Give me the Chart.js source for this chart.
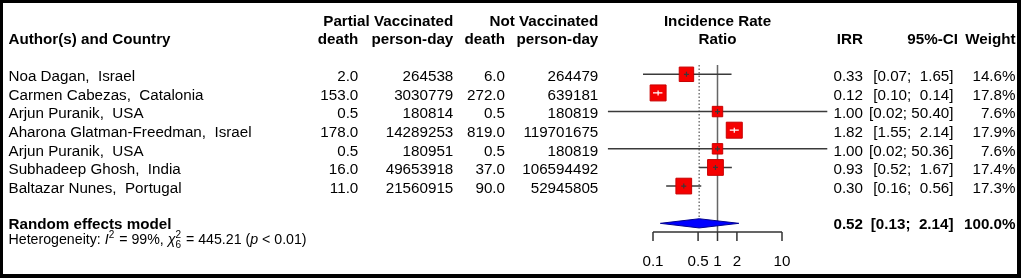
<!DOCTYPE html>
<html><head><meta charset="utf-8">
<script src="https://cdn.jsdelivr.net/npm/chart.js@4.4.0/dist/chart.umd.min.js"></script>
<style>html,body{margin:0;padding:0;background:#fff;overflow:hidden}#wrap{width:1021px;height:278px;position:relative}canvas{display:block}</style>
</head><body><div id="wrap"><canvas id="c" width="1021" height="278"></canvas></div>
<script>
// ---------------- data ----------------
const studies = ['Noa Dagan,  Israel','Carmen Cabezas,  Catalonia','Arjun Puranik,  USA','Aharona Glatman-Freedman,  Israel','Arjun Puranik,  USA','Subhadeep Ghosh,  India','Baltazar Nunes,  Portugal'];
const partialDeath = [2.0,153.0,0.5,178.0,0.5,16.0,11.0];
const partialPersonDay = [264538,3030779,180814,14289253,180951,49653918,21560915];
const notDeath = [6.0,272.0,0.5,819.0,0.5,37.0,90.0];
const notPersonDay = [264479,639181,180819,119701675,180819,106594492,52945805];
const irr = [0.33,0.12,1.00,1.82,1.00,0.93,0.30];
const ciLow = [0.07,0.10,0.02,1.55,0.02,0.52,0.16];
const ciHigh = [1.65,0.14,50.40,2.14,50.36,1.67,0.56];
const weights = [14.6,17.8,7.6,17.9,7.6,17.4,17.3];
const pooledLabel = 'Random effects model';
const pooledEst = 0.52, pooledLow = 0.13, pooledHigh = 2.14, pooledWeight = 100.0;
const axisTicks = [0.1,0.5,1,2,10];
const axisTickLabels = ['0.1','0.5','1','2','10'];
const hetI2 = '99%', hetQ = '445.21', hetDf = '6', hetP = '< 0.01';

// ---------------- geometry ----------------
const W = 1021, H = 278;
const PX_ONE = 717.5, PX_DECADE = 64.5, ROW0 = 74.3, ROWH = 18.63;
const xMin = Math.pow(10, -PX_ONE / PX_DECADE), xMax = Math.pow(10, (W - PX_ONE) / PX_DECADE);
const yMin = -ROW0 / ROWH, yMax = (H - ROW0) / ROWH;
const POOL_ROW = studies.length + 1;
const AXIS_ROW = 8.465;
const FONT = '"Liberation Sans", Arial, Helvetica, sans-serif';
const FS = 15.2, FS_HET = 14.2;
const maxW = Math.max(...weights);
const sideOf = w => 16 * Math.sqrt(w / maxW);

const ciDatasets = studies.map((s, i) => ({
  type: 'scatter', showLine: true, data: [{x: ciLow[i], y: i}, {x: ciHigh[i], y: i}],
  borderColor: '#3a3a3a', borderWidth: 1.5, pointRadius: 0, order: 2
}));

const diamondH = 4.6 / ROWH;
const datasets = [
  { type: 'scatter', data: studies.map((s, i) => ({x: irr[i], y: i})),
    pointStyle: 'rect', pointRadius: weights.map(w => sideOf(w) / Math.SQRT2),
    pointHoverRadius: weights.map(w => sideOf(w) / Math.SQRT2),
    backgroundColor: '#f50000', borderColor: '#c80000', borderWidth: 1, order: 0 },
  { type: 'scatter', showLine: true, fill: 'shape',
    data: [{x: pooledLow, y: POOL_ROW}, {x: pooledEst, y: POOL_ROW - diamondH}, {x: pooledHigh, y: POOL_ROW}, {x: pooledEst, y: POOL_ROW + diamondH}, {x: pooledLow, y: POOL_ROW}],
    backgroundColor: '#0000ff', borderColor: '#000090', borderWidth: 1, pointRadius: 0, tension: 0, order: 1 },
  ...ciDatasets,
  { type: 'scatter', showLine: true, data: [{x: 1, y: -0.5}, {x: 1, y: AXIS_ROW}],
    borderColor: '#666', borderWidth: 1.5, pointRadius: 0, order: 3 },
  { type: 'scatter', showLine: true, data: [{x: pooledEst, y: -0.5}, {x: pooledEst, y: POOL_ROW}],
    borderColor: '#777', borderWidth: 1.5, borderDash: [1.5, 2], pointRadius: 0, order: 3 }
];

function fmtInt(v) { return String(Math.round(v)); }
function pad(s, n) { while (s.length < n) s = ' ' + s; return s; }
function fmtCI(lo, hi) { return '[' + lo.toFixed(2) + '; ' + pad(hi.toFixed(2), 5) + ']'; }

const forestPlugin = {
  id: 'forest',
  afterDatasetsDraw(chart) {
    const ctx = chart.ctx, xs = chart.scales.x, ys = chart.scales.y;
    const px = v => xs.getPixelForValue(v), py = r => ys.getPixelForValue(r);
    ctx.save();
    // crosses on squares
    studies.forEach((s, i) => {
      const cx = px(irr[i]), cy = py(i), half = sideOf(weights[i]) / 2;
      const lo = px(ciLow[i]), hi = px(ciHigh[i]);
      const inside = lo >= cx - half && hi <= cx + half;
      ctx.strokeStyle = inside ? '#ffffff' : '#3a3a3a';
      ctx.lineWidth = 1.2;
      ctx.beginPath();
      if (inside) { ctx.moveTo(lo, cy); ctx.lineTo(hi, cy); }
      else { ctx.moveTo(cx - 2.5, cy); ctx.lineTo(cx + 2.5, cy); }
      ctx.moveTo(cx, cy - 2.5); ctx.lineTo(cx, cy + 2.5);
      ctx.stroke();
    });
    // axis
    const ay = py(AXIS_ROW);
    ctx.strokeStyle = '#333'; ctx.lineWidth = 1.5;
    ctx.beginPath();
    ctx.moveTo(px(axisTicks[0]), ay); ctx.lineTo(px(axisTicks[axisTicks.length - 1]), ay);
    axisTicks.forEach(t => { ctx.moveTo(px(t), ay); ctx.lineTo(px(t), ay + 9); });
    ctx.stroke();
    ctx.fillStyle = '#000';
    ctx.font = FS + 'px ' + FONT; ctx.textAlign = 'center'; ctx.textBaseline = 'alphabetic';
    axisTicks.forEach((t, k) => ctx.fillText(axisTickLabels[k], px(t), ay + 34));

    // text helpers
    const T = (str, x, y, align, bold) => {
      ctx.font = (bold ? 'bold ' : '') + FS + 'px ' + FONT;
      ctx.textAlign = align; ctx.fillText(str, x, y);
    };
    const base = r => py(r) + 6.8;
    const h1 = 25.5, h2 = 43.8;
    // headers
    T('Author(s) and Country', 8.5, h2, 'left', true);
    T('Partial Vaccinated', 453.3, h1, 'right', true);
    T('death', 358.3, h2, 'right', true);
    T('person-day', 453.3, h2, 'right', true);
    T('Not Vaccinated', 598.3, h1, 'right', true);
    T('death', 505, h2, 'right', true);
    T('person-day', 598.3, h2, 'right', true);
    T('Incidence Rate', px(1), h1, 'center', true);
    T('Ratio', px(1), h2, 'center', true);
    T('IRR', 863, h2, 'right', true);
    T('95%-CI', 958, h2, 'right', true);
    T('Weight', 1015.5, h2, 'right', true);
    // rows
    studies.forEach((s, i) => {
      const y = base(i);
      T(s, 8.5, y, 'left');
      T(partialDeath[i].toFixed(1), 358.3, y, 'right');
      T(fmtInt(partialPersonDay[i]), 453.3, y, 'right');
      T(notDeath[i].toFixed(1), 505, y, 'right');
      T(fmtInt(notPersonDay[i]), 598.3, y, 'right');
      T(irr[i].toFixed(2), 863, y, 'right');
      T(fmtCI(ciLow[i], ciHigh[i]), 953.5, y, 'right');
      T(weights[i].toFixed(1) + '%', 1015.5, y, 'right');
    });
    const yp = base(POOL_ROW) - 1.2;
    T(pooledLabel, 8.5, yp, 'left', true);
    T(pooledEst.toFixed(2), 863, yp, 'right', true);
    T(fmtCI(pooledLow, pooledHigh), 953.5, yp, 'right', true);
    T(pooledWeight.toFixed(1) + '%', 1015.5, yp, 'right', true);
    // heterogeneity
    let hx = 8.5; const hy = yp + 15.5;
    const seg = (str, style, dy, size) => {
      ctx.font = (style || '') + ' ' + (size || FS_HET) + 'px ' + FONT;
      ctx.textAlign = 'left';
      ctx.fillText(str, hx, hy + (dy || 0));
      return ctx.measureText(str).width;
    };
    hx += seg('Heterogeneity: ');
    hx += seg('I', 'italic');
    hx += seg('2', '', -6, 10) + 1;
    hx += seg(' = ' + hetI2 + ', ');
    hx += seg('\u03C7', 'italic');
    const w2 = seg('2', '', -6, 10); seg(hetDf, '', 4, 10); hx += w2 + 1;
    hx += seg(' = ' + hetQ + ' (');
    hx += seg('p', 'italic');
    hx += seg(' ' + hetP + ')');
    // border
    ctx.fillStyle = '#000';
    ctx.fillRect(0, 0, W, 3); ctx.fillRect(0, 0, 3, H);
    ctx.fillRect(0, H - 4, W, 4); ctx.fillRect(W - 4, 0, 4, H);
    ctx.restore();
  }
};

new Chart(document.getElementById('c'), {
  type: 'scatter',
  data: { datasets },
  options: {
    responsive: false, animation: false, devicePixelRatio: 1,
    layout: { padding: 0, autoPadding: false },
    plugins: { legend: { display: false }, tooltip: { enabled: false } },
    events: [],
    scales: {
      x: { type: 'logarithmic', display: false, min: xMin, max: xMax, bounds: 'data' },
      y: { type: 'linear', display: false, min: yMin, max: yMax, reverse: true }
    }
  },
  plugins: [forestPlugin]
});
</script></body></html>
